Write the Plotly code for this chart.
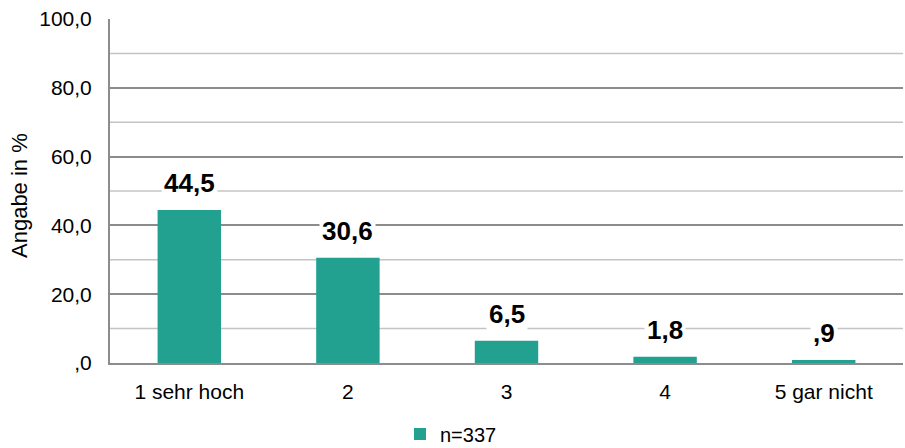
import plotly.graph_objects as go

categories = ["1 sehr hoch", "2", "3", "4", "5 gar nicht"]
values = [44.5, 30.6, 6.5, 1.8, 0.9]
value_labels = ["44,5", "30,6", "6,5", "1,8", ",9"]
tick_vals = [0, 20, 40, 60, 80, 100]
tick_text = [",0", "20,0", "40,0", "60,0", "80,0", "100,0"]
minor_vals = [10, 30, 50, 70, 90]
series_name = "n=337"

teal = "#23A190"
font = "Liberation Sans, Arial, sans-serif"

W, H = 905, 448
L, R = 110, 2
PLOT_TOP, PLOT_BOTTOM = 19, 363

fig = go.Figure()
fig.add_trace(go.Bar(
    x=list(range(len(categories))), y=values, name=series_name,
    marker=dict(color=teal, line=dict(width=0)),
    width=0.4, showlegend=True,
))

# minor gridlines
for v in minor_vals:
    fig.add_shape(type="line", xref="paper", yref="y", x0=0, x1=1, y0=v, y1=v,
                  line=dict(color="#C4C4C4", width=1.5), layer="below")

for i, (v, t) in enumerate(zip(values, value_labels)):
    fig.add_annotation(x=i, y=v, text="<b>" + t + "</b>", showarrow=False,
                       yanchor="bottom", yshift=9, bgcolor="white",
                       font=dict(family=font, size=26, color="black"),
                       borderpad=2)

fig.add_annotation(xref="paper", yref="paper", x=(19 - L) / (W - L - R),
                   y=(H - 196) / H,
                   text="Angabe in %", textangle=-90, showarrow=False,
                   xanchor="center", yanchor="middle",
                   font=dict(family=font, size=22, color="black"))

fig.update_layout(
    width=W, height=H,
    margin=dict(l=L, r=R, t=0, b=0, autoexpand=False),
    paper_bgcolor="white", plot_bgcolor="white",
    font=dict(family=font, size=21, color="black"),
    legend=dict(orientation="h", x=(451 - L) / (W - L - R), xanchor="center",
                y=(H - 434) / H, yanchor="middle",
                font=dict(size=20), itemwidth=30),
    xaxis=dict(range=[-0.5, 4.5], tickvals=list(range(len(categories))), ticktext=categories,
               showgrid=False, showline=True, linecolor="#8C8C8C", linewidth=2,
               ticks="", tickfont=dict(size=21), ticklabelstandoff=9, automargin=False,
               zeroline=False),
    yaxis=dict(range=[0, 100], tickvals=tick_vals, ticktext=tick_text,
               domain=[(H - PLOT_BOTTOM) / H, (H - PLOT_TOP) / H],
               showgrid=True, gridcolor="#8C8C8C", gridwidth=2,
               showline=True, linecolor="#8C8C8C", linewidth=2,
               zeroline=False, ticks="", tickfont=dict(size=21),
               ticklabelstandoff=12, automargin=False),
)
fig.write_html("out.html", config={"displayModeBar": False},
               post_script="document.body.style.margin='0';document.body.style.overflow='hidden';")
